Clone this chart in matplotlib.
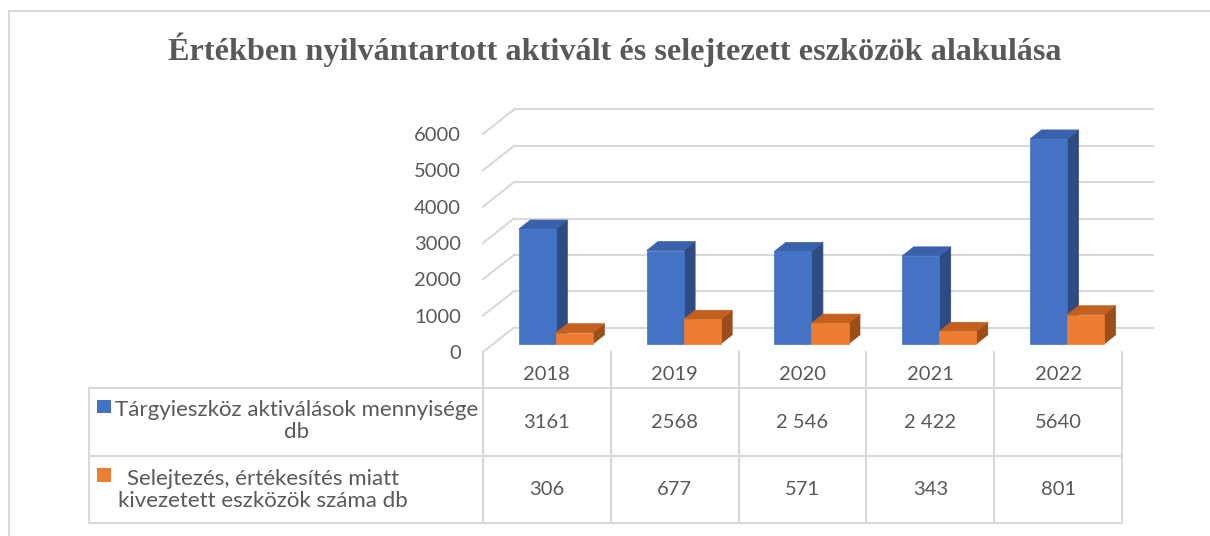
import matplotlib.pyplot as plt
from matplotlib.patches import Polygon, Rectangle
from matplotlib.lines import Line2D

# Adatok
years = ['2018', '2019', '2020', '2021', '2022']
aktivalas = [3161, 2568, 2546, 2422, 5640]
selejtezes = [306, 677, 571, 343, 801]
aktivalas_labels = ['3161', '2568', '2 546', '2 422', '5640']
selejtezes_labels = ['306', '677', '571', '343', '801']
series_names = ['Tárgyieszköz aktiválások mennyisége\ndb',
                'Selejtezés, értékesítés miatt\nkivezetett eszközök száma db']
y_ticks = [0, 1000, 2000, 3000, 4000, 5000, 6000]

W, H = 1210, 536
TXT = '#595959'
GRID = '#D9D9D9'
FONT = 'Lato'

blue = ('#4472C4', '#3A62AC', '#2E4B82')     # elől, felül, oldal
orange = ('#ED7D31', '#C2601F', '#9C4E1A')


def rect(x0, y0, x1, y1):
    # pixel doboz (bal felső origó) -> figure fraction
    return [x0 / W, 1 - y1 / H, (x1 - x0) / W, (y1 - y0) / H]


fig = plt.figure(figsize=(W / 100, H / 100), dpi=100)

# keret
fig.add_artist(Line2D([9 / W, 9 / W], [0, 1 - 11 / H], color=GRID, lw=1.5))
fig.add_artist(Line2D([9 / W, 1], [1 - 11 / H, 1 - 11 / H], color=GRID, lw=1.5))

fig.text(615 / W, 1 - 50 / H,
         'Értékben nyilvántartott aktivált és selejtezett eszközök alakulása',
         ha='center', va='center', fontsize=23.2, fontweight='bold',
         family='Liberation Serif', color=TXT)

# Diagram tengely (elülső sík)
ax = fig.add_axes(rect(483, 134, 1122, 352))
n = len(years)
ax.set_xlim(0, n)
ax.set_ylim(0, 6000)
for s in ax.spines.values():
    s.set_visible(False)
ax.set_xticks([])
ax.set_yticks(y_ticks)
ax.set_yticklabels([str(t) for t in y_ticks])
ax.tick_params(axis='y', length=0, pad=16, labelsize=14.5, labelcolor=TXT)
for lab in ax.get_yticklabels():
    lab.set_family(FONT)

px_x = n / 639.0          # adategység / pixel (x)
px_y = 6000 / 218.0       # adategység / pixel (y)
DX = 31 * px_x
DY = 24.5 * px_y


def sh(x, y, d):
    return (x + d * DX, y + d * DY)


# hátfal + oldalfal rácsvonalak
for t in y_ticks:
    ax.plot([sh(0, t, 1)[0], sh(n, t, 1)[0]], [t + DY, t + DY],
            color=GRID, lw=1.5, clip_on=False, zorder=1)
    ax.plot([0, DX], [t, t + DY], color=GRID, lw=1.5, clip_on=False, zorder=1)

# 3D oszlopok
d0, d1 = 0.33, 0.70
bw = 0.29
off = 0.2


def bar3d(xl, v, cols, z):
    xr = xl + bw
    front = [sh(xl, 0, d0), sh(xr, 0, d0), sh(xr, v, d0), sh(xl, v, d0)]
    top = [sh(xl, v, d0), sh(xr, v, d0), sh(xr, v, d1), sh(xl, v, d1)]
    side = [sh(xr, 0, d0), sh(xr, 0, d1), sh(xr, v, d1), sh(xr, v, d0)]
    for pts, c in ((side, cols[2]), (top, cols[1]), (front, cols[0])):
        ax.add_patch(Polygon(pts, closed=True, facecolor=c, edgecolor=c,
                             lw=0.5, clip_on=False, zorder=z))


for i in range(n):
    bar3d(i + off, aktivalas[i], blue, 3 + 2 * i)
    bar3d(i + off + bw, selejtezes[i], orange, 4 + 2 * i)

# Adattábla
tax = fig.add_axes(rect(483, 352, 1122, 523))
tax.set_xlim(0, n)
tax.set_ylim(171, 0)
tax.axis('off')


def tx(px):
    return (px - 483) * px_x


left = tx(89)
rows_y = [36, 104, 171]
for x in range(n + 1):
    tax.plot([x, x], [0, 171], color=GRID, lw=1.5, clip_on=False)
tax.plot([left, left], [36, 171], color=GRID, lw=1.5, clip_on=False)
for y in rows_y:
    tax.plot([left, n], [y, y], color=GRID, lw=1.5, clip_on=False)

for i in range(n):
    tax.text(i + 0.5, 23, years[i], ha='center', va='center',
             fontsize=14.5, family=FONT, color=TXT)
    tax.text(i + 0.5, 70, aktivalas_labels[i], ha='center', va='center',
             fontsize=14.5, family=FONT, color=TXT)
    tax.text(i + 0.5, 137.5, selejtezes_labels[i], ha='center', va='center',
             fontsize=14.5, family=FONT, color=TXT)

tax.add_patch(Rectangle((tx(97), 48), 14 * px_x, 13, facecolor=blue[0],
                        edgecolor='none', clip_on=False))
tax.add_patch(Rectangle((tx(97), 116), 14 * px_x, 14, facecolor=orange[0],
                        edgecolor='none', clip_on=False))
tax.text(tx(297), 69, series_names[0], ha='center', va='center',
         multialignment='center', fontsize=16, family=FONT, color=TXT,
         linespacing=1.15)
tax.text(tx(263), 138, series_names[1], ha='center', va='center',
         multialignment='center', fontsize=16, family=FONT, color=TXT,
         linespacing=1.15)

fig.savefig('out.png', dpi=100)
